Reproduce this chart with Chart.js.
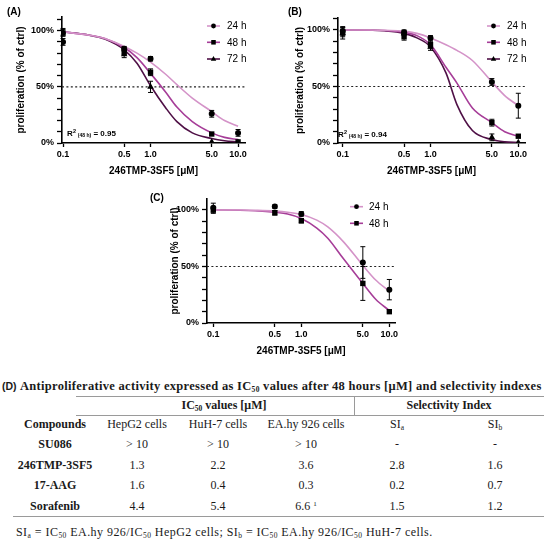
<!DOCTYPE html>
<html>
<head>
<meta charset="utf-8">
<script src="https://cdn.jsdelivr.net/npm/chart.js@4.4.1/dist/chart.umd.min.js"></script>
<style>
    body { margin: 0; background: #fff; width: 550px; height: 541px; position: relative; overflow: hidden; font-family: 'Liberation Sans', Arial, sans-serif; }
    canvas { position: absolute; }
    .t { position: absolute; white-space: nowrap; line-height: 1; transform: translate(-50%, -50%); font-family: 'Liberation Serif', 'Times New Roman', serif; font-size: 12px; color: #1a1a1a; }
    .left { transform: translate(0, -50%); }
    .b { font-weight: bold; }
    .rule { position: absolute; background: #9a9a9a; }
    sub { font-size: 7.5px; vertical-align: -2px; line-height: 0; }
    sup { font-size: 7px; vertical-align: 4px; line-height: 0; }
</style>
</head>
<body>
<canvas id="chartA" width="275" height="180" style="left:0;top:0"></canvas>
<canvas id="chartB" width="275" height="180" style="left:275px;top:0"></canvas>
<canvas id="chartC" width="290" height="175" style="left:130px;top:185px"></canvas>
<div id="table"></div>

<script>
const doses = [0.1, 0.5, 1, 5, 10];
const curveDoses = [0.1, 0.2, 0.3, 0.5, 0.7, 1, 1.5, 2, 3, 5, 7, 10];
const doseTicks = [0.1, 0.5, 1, 5, 10];
const doseTickLabels = ['0.1', '0.5', '1.0', '5.0', '10.0'];
const percentTicks = [0, 10, 20, 30, 40, 50, 60, 70, 80, 90, 100, 110];
const percentTickLabels = ['0%', '', '', '', '', '50%', '', '', '', '', '100%', ''];
const halfLine = 50;
const seriesLabels = ['24 h', '48 h', '72 h'];

// (A) HepG2
const a24 = [90, 84, 75, 26, 9];
const a24Err = [3, 2, 2, 3, 3];
const a48 = [98, 81, 63, 8, 1];
const a48Err = [3, 2, 3, 1, 1];
const a72 = [99, 79, 50, 1, 0.5];
const a72Err = [3, 3, 5, 1, 1];
const a24Fit = [99, 96, 93, 86, 80, 72, 61, 52, 40, 28, 20, 15];
const a48Fit = [99, 96, 93, 85, 76, 62, 45, 32, 19, 9, 5, 3];
const a72Fit = [99, 96, 92.5, 83, 71, 51, 31, 19, 9, 4, 2, 1];

// (B) HuH-7
const b24 = [99, 98, 93, 54, 33];
const b24Err = [4, 2, 2, 3, 11];
const b48 = [98, 94, 87, 18, 6];
const b48Err = [4, 3, 3, 3, 1];
const b72 = [97, 97, 85, 5, 0.5];
const b72Err = [5, 2, 3, 3, 1];
const b24Fit = [100, 100, 99.7, 99, 97, 93, 87, 82, 73, 54, 42, 33];
const b48Fit = [100, 99.8, 99.5, 98, 95, 87, 67, 53, 31, 18, 10, 6];
const b72Fit = [100, 99.8, 99.3, 97, 93, 85, 62, 34, 11, 3, 1, 0.5];

// (C) EA.hy 926
const c24 = [102, 103, 96.5, 53.5, 29.5];
const c24Err = [4, 1.5, 2, 14, 9];
const c48 = [100, 97.5, 90.5, 35, 10];
const c48Err = [3, 2, 2, 15, 1];
const c24Fit = [100, 100, 99.7, 99, 98, 96, 91, 85, 72, 51, 38, 28];
const c48Fit = [100, 99.8, 99.3, 98, 96.5, 92.5, 84, 75, 57, 35, 21, 11];

// (D) table
const compounds = ['SU086', '246TMP-3SF5', '17-AAG', 'Sorafenib'];
const ic50HepG2 = ['> 10', '1.3', '1.6', '4.4'];
const ic50HuH7 = ['> 10', '2.2', '0.4', '5.4'];
const ic50EAhy = ['> 10', '3.6', '0.3', '6.6 <sup>1</sup>'];
const siA = ['-', '2.8', '0.2', '1.5'];
const siB = ['-', '1.6', '0.7', '1.2'];
const columnHeads = ['Compounds', 'HepG2 cells', 'HuH-7 cells', 'EA.hy 926 cells', 'SI<sub>a</sub>', 'SI<sub>b</sub>'];

const colors = ['#d493c8', '#a63d98', '#4f1046'];
const markers = ['circle', 'rect', 'triangle'];
const markerRadius = [3, 3.8, 3.8];
const sans = "'Liberation Sans', Arial, sans-serif";

function drawMarker(ctx, style, x, y, r) {
    ctx.beginPath();
    if (style === 'circle') {
        ctx.arc(x, y, r, 0, Math.PI * 2);
    } else if (style === 'rect') {
        const s = r * 0.75;
        ctx.rect(x - s, y - s, 2 * s, 2 * s);
    } else {
        ctx.moveTo(x, y - r);
        ctx.lineTo(x + r * 0.9, y + r * 0.55);
        ctx.lineTo(x - r * 0.9, y + r * 0.55);
        ctx.closePath();
    }
    ctx.fill();
}

const panelDecor = {
    id: 'panelDecor',
    afterDatasetsDraw(chart) {
        const ctx = chart.ctx, yScale = chart.scales.y;
        chart.data.datasets.forEach((ds, i) => {
            if (!ds.err) return;
            const meta = chart.getDatasetMeta(i);
            ctx.save();
            ctx.strokeStyle = '#000';
            ctx.lineWidth = 1;
            meta.data.forEach((pt, j) => {
                const v = ds.data[j].y, e = ds.err[j];
                if (e < 1.5) return;
                const top = yScale.getPixelForValue(v + e);
                const bot = yScale.getPixelForValue(Math.max(v - e, 0));
                ctx.beginPath();
                ctx.moveTo(pt.x, top); ctx.lineTo(pt.x, bot);
                ctx.moveTo(pt.x - 2.5, top); ctx.lineTo(pt.x + 2.5, top);
                ctx.moveTo(pt.x - 2.5, bot); ctx.lineTo(pt.x + 2.5, bot);
                ctx.stroke();
            });
            ctx.restore();
        });
    },
    afterDraw(chart, args, o) {
        const ctx = chart.ctx;
        ctx.save();
        ctx.fillStyle = '#000';
        ctx.textBaseline = 'middle';
        ctx.font = 'bold 10px ' + sans;
        ctx.fillText(o.tag, o.tagX, o.tagY);

        // legend: coloured line with black marker
        const lg = o.legend;
        let row = 0;
        chart.data.datasets.forEach(ds => {
            if (!ds.err) return;
            const y = lg.rows[row++];
            ctx.strokeStyle = ds.lineColor;
            ctx.lineWidth = 1.6;
            ctx.beginPath();
            ctx.moveTo(lg.x0, y); ctx.lineTo(lg.x1, y);
            ctx.stroke();
            ctx.fillStyle = '#000';
            drawMarker(ctx, ds.pointStyle, (lg.x0 + lg.x1) / 2, y, ds.pointRadius * 0.8);
            ctx.font = '10px ' + sans;
            ctx.fillText(ds.label, lg.textX, y + 0.5);
        });

        if (o.r2) {
            let x = o.r2.x;
            const y = o.r2.y;
            ctx.font = 'bold 8px ' + sans;
            ctx.fillText('R', x, y); x += ctx.measureText('R').width;
            ctx.font = 'bold 5.5px ' + sans;
            ctx.fillText('2', x + 0.3, y - 2.5); x += ctx.measureText('2 ').width + 0.5;
            ctx.font = 'bold 5px ' + sans;
            ctx.fillText('(48 h)', x, y + 2); x += ctx.measureText('(48 h)').width;
            ctx.font = 'bold 8px ' + sans;
            ctx.fillText(' = ' + o.r2.value, x, y);
        }
        ctx.restore();
    }
};

function makePanel(canvasId, series, look) {
    const datasets = [];
    series.forEach((s, i) => {
        datasets.push({
            label: seriesLabels[i],
            data: doses.map((d, j) => ({ x: d, y: s.points[j] })),
            err: s.err,
            lineColor: colors[i],
            showLine: false,
            pointStyle: markers[i],
            pointRadius: markerRadius[i],
            pointBackgroundColor: '#000',
            pointBorderColor: '#000',
            pointBorderWidth: 0,
            order: 1
        });
    });
    series.forEach((s, i) => {
        datasets.push({
            data: curveDoses.map((d, j) => ({ x: d, y: s.fit[j] })),
            borderColor: colors[i],
            borderWidth: 1.6,
            pointRadius: 0,
            cubicInterpolationMode: 'monotone',
            fill: false,
            order: 2
        });
    });
    datasets.push({
        data: [{ x: look.xMin, y: halfLine }, { x: look.xMax, y: halfLine }],
        borderColor: '#222',
        borderWidth: 1.2,
        borderDash: [2, 2.4],
        pointRadius: 0,
        order: 3
    });

    const tickFont = { family: sans, size: 9, weight: 'bold' };
    const titleFont = { family: sans, size: 10, weight: 'bold' };

    return new Chart(document.getElementById(canvasId), {
        type: 'line',
        data: { datasets: datasets },
        plugins: [panelDecor],
        options: {
            responsive: false,
            animation: false,
            events: [],
            layout: { padding: { left: look.padLeft, right: look.padRight, top: look.padTop, bottom: 0 } },
            plugins: {
                legend: { display: false },
                tooltip: { enabled: false },
                panelDecor: { tag: look.tag, tagX: look.tagX, tagY: look.tagY, legend: look.legend, r2: look.r2 }
            },
            scales: {
                x: {
                    type: 'logarithmic',
                    min: look.xMin, max: look.xMax,
                    afterBuildTicks: sc => { sc.ticks = doseTicks.map(v => ({ value: v })); },
                    afterFit: sc => { sc.height = look.xHeight; },
                    ticks: { autoSkip: false, maxRotation: 0, font: tickFont, color: '#000', padding: 2,
                        callback: (v, i) => doseTickLabels[i] },
                    grid: { drawOnChartArea: false, drawTicks: true, tickLength: 4, tickColor: '#000', tickWidth: 1.3 },
                    border: { color: '#000', width: 1.6 },
                    title: { display: true, text: '246TMP-3SF5 [μM]', font: titleFont, color: '#000',
                        padding: { top: 0, bottom: look.xTitlePad } }
                },
                y: {
                    min: 0, max: look.yMax,
                    afterBuildTicks: sc => { sc.ticks = percentTicks.filter(v => v <= look.yMax).map(v => ({ value: v })); },
                    afterFit: sc => { sc.width = look.yWidth; },
                    ticks: { autoSkip: false, font: tickFont, color: '#000', padding: 3,
                        callback: (v, i) => percentTickLabels[i] },
                    grid: { drawOnChartArea: false, drawTicks: true, tickLength: 5, tickColor: '#000', tickWidth: 1.3 },
                    border: { color: '#000', width: 1.6 },
                    title: { display: true, text: 'proliferation (% of ctrl)', font: titleFont, color: '#000',
                        padding: { top: 4, bottom: 0 } }
                }
            }
        }
    });
}

makePanel('chartA', [
    { points: a24, err: a24Err, fit: a24Fit },
    { points: a48, err: a48Err, fit: a48Fit },
    { points: a72, err: a72Err, fit: a72Fit }
], {
    padLeft: 11, yWidth: 51, padRight: 30, padTop: 17, xHeight: 37, xTitlePad: 3,
    xMin: 0.0974, xMax: 12.0, yMax: 112.2,
    tag: '(A)', tagX: 7, tagY: 12,
    legend: { x0: 207, x1: 220, textX: 227, rows: [26, 42.3, 59] },
    r2: { x: 67, y: 134, value: '0.95' }
});

makePanel('chartB', [
    { points: b24, err: b24Err, fit: b24Fit },
    { points: b48, err: b48Err, fit: b48Fit },
    { points: b72, err: b72Err, fit: b72Fit }
], {
    padLeft: 15, yWidth: 48, padRight: 25, padTop: 18, xHeight: 37, xTitlePad: 3,
    xMin: 0.0884, xMax: 11.92, yMax: 110.6,
    tag: '(B)', tagX: 13, tagY: 12,
    legend: { x0: 212, x1: 225, textX: 232, rows: [26, 42.3, 59] },
    r2: { x: 63, y: 135, value: '0.94' }
});

makePanel('chartC', [
    { points: c24, err: c24Err, fit: c24Fit },
    { points: c48, err: c48Err, fit: c48Fit }
], {
    padLeft: 35, yWidth: 42, padRight: 25, padTop: 14, xHeight: 37, xTitlePad: 3,
    xMin: 0.0848, xMax: 11.6, yMax: 109.7,
    tag: '(C)', tagX: 20, tagY: 13,
    legend: { x0: 220, x1: 233, textX: 239, rows: [21.7, 38.3] },
    r2: null
});

// --- table (D) ---
const colX = [55, 137, 218, 306, 397, 495];
const rowY = [443.5, 464.5, 485, 505.5];
let html = '';
const cell = (x, y, text, cls) => `<div class="t ${cls || ''}" style="left:${x}px;top:${y}px">${text}</div>`;
const rule = (x, y, w, h) => `<div class="rule" style="left:${x}px;top:${y}px;width:${w}px;height:${h}px"></div>`;

html += `<div class="t left" style="left:2px;top:385.5px;font-size:12.5px;letter-spacing:0.3px"><span class="b" style="font-family:${sans};font-size:10.5px;letter-spacing:0">(D)</span> <span class="b">Antiproliferative activity expressed as IC<sub>50</sub> values after 48 hours [μM] and selectivity indexes</span></div>`;
html += rule(76, 396, 468, 1) + rule(76, 415, 468, 1) + rule(354, 396, 1, 19) + rule(13, 516, 531, 1);
html += cell(224, 405, 'IC<sub>50</sub> values [μM]', 'b');
html += cell(449, 405, 'Selectivity Index', 'b');
columnHeads.forEach((h, i) => { html += cell(colX[i], 423.5, h, i === 0 ? 'b' : ''); });
compounds.forEach((name, r) => {
    const row = [name, ic50HepG2[r], ic50HuH7[r], ic50EAhy[r], siA[r], siB[r]];
    row.forEach((v, i) => { html += cell(colX[i], rowY[r], v, i === 0 ? 'b' : ''); });
});
html += `<div class="t left" style="left:16px;top:531.5px;letter-spacing:0.45px">SI<sub>a</sub> = IC<sub>50</sub> EA.hy 926/IC<sub>50</sub> HepG2 cells; SI<sub>b</sub> = IC<sub>50</sub> EA.hy 926/IC<sub>50</sub> HuH-7 cells.</div>`;
document.getElementById('table').innerHTML = html;
</script>
</body>
</html>
